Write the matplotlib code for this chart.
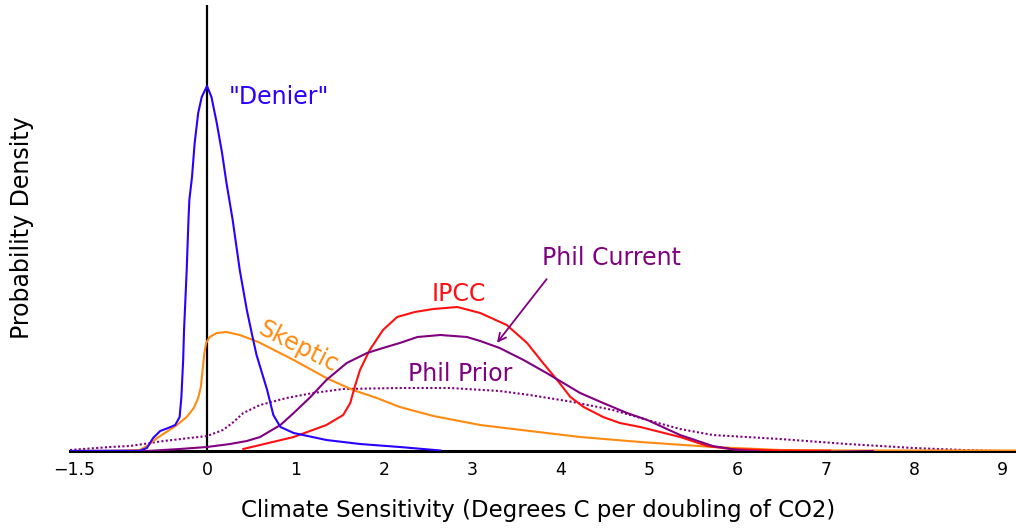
import numpy as np
import matplotlib
matplotlib.use('Agg')
import matplotlib.pyplot as plt

# climate sensitivity (deg C) vs probability density (arbitrary units)
denier_x = [-1.55, -0.98, -0.76, -0.68, -0.61, -0.53, -0.44, -0.36, -0.31, -0.29, -0.27, -0.26,
            -0.25, -0.23, -0.21, -0.20, -0.17, -0.14, -0.10, -0.06, 0.00, 0.05, 0.11, 0.17, 0.22,
            0.29, 0.37, 0.45, 0.51, 0.56, 0.68, 0.75, 0.83, 0.98, 1.35, 1.73, 2.18, 2.64]
denier_y = [0, 0.3, 0.3, 3, 13, 20, 23, 26, 34, 54, 91, 121,
            141, 181, 231, 251, 274, 308, 338, 354, 365, 354, 328, 298, 268,
            231, 181, 141, 116, 96, 61, 36, 24, 18, 11, 7, 4, 0.5]

skeptic_x = [-1.55, -0.98, -0.76, -0.66, -0.57, -0.46, -0.34, -0.23, -0.15, -0.10, -0.07, -0.05,
             -0.03, -0.01, 0.03, 0.11, 0.22, 0.37, 0.58, 0.98, 1.35, 1.65, 1.92, 2.18, 2.56,
             3.09, 3.84, 4.22, 4.90, 5.72, 6.48, 7.27, 9.15]
skeptic_y = [0, 0.3, 1, 6, 12.7, 19, 26, 34, 43, 53, 64, 81,
             98, 108, 114, 118, 119, 116, 109, 91, 73, 61, 53, 44, 35,
             26, 18, 14, 9, 4, 1, 0.5, 0.5]

ipcc_x = [0.41, 0.60, 0.98, 1.35, 1.54, 1.62, 1.67, 1.73, 1.84, 1.99, 2.15, 2.35, 2.56, 2.83,
          3.09, 3.39, 3.62, 3.80, 3.96, 4.11, 4.26, 4.48, 4.67, 4.90, 5.35, 5.66, 5.92, 6.48, 7.05]
ipcc_y = [2, 6, 14, 26, 36, 48, 64, 81, 101, 121, 134, 139, 142, 144,
          138, 126, 108, 88, 71, 54, 44, 34, 28, 24, 14, 5, 2, 0.5, 0.3]

current_x = [-1.55, -0.68, -0.31, 0.0, 0.26, 0.45, 0.60, 0.83, 0.98, 1.17, 1.35, 1.58, 1.81,
             1.99, 2.18, 2.38, 2.64, 2.94, 3.09, 3.31, 3.58, 3.84, 4.03, 4.22, 4.48, 4.75,
             4.98, 5.35, 5.72, 6.0, 6.48, 6.86, 7.53]
current_y = [0, 0, 2, 4, 7, 10, 14, 26, 38, 54, 71, 88, 98,
             103, 108, 114, 116, 114, 110, 103, 91, 78, 68, 58, 48, 38,
             31, 16, 5, 1, -2, -1, 0]

prior_x = [-1.55, -1.10, -0.87, -0.49, 0.0, 0.18, 0.30, 0.41, 0.60, 0.90, 1.20, 1.54, 2.18,
           2.75, 3.31, 3.65, 4.14, 4.59, 4.98, 5.35, 5.72, 6.48, 7.24, 7.99, 8.55, 8.97]
prior_y = [1, 4, 5, 10, 15, 21, 29, 38, 46, 53, 58, 62, 63,
           63, 60, 56, 49, 41, 31, 22, 16, 12, 7, 3, 1, 0]

xticks = [-1.5, 0, 1, 2, 3, 4, 5, 6, 7, 8, 9]
xticklabels = ['\u22121.5', '0', '1', '2', '3', '4', '5', '6', '7', '8', '9']

blue = '#2a00ff'
orange = '#ff8a10'
red = '#ff1010'
purple = '#800080'

plt.rcParams['font.family'] = 'DejaVu Sans'

fig = plt.figure(figsize=(10.16, 5.32), dpi=100)
ax = fig.add_axes([70 / 1016, 1 - 451 / 532, 1 - 70 / 1016, 446 / 532])

ax.plot(prior_x, prior_y, color=purple, lw=1.5, ls=(0, (1, 1.1)), dash_capstyle='butt')
ax.plot(skeptic_x, skeptic_y, color=orange, lw=1.5)
ax.plot(ipcc_x, ipcc_y, color=red, lw=1.5)
ax.plot(current_x, current_y, color=purple, lw=1.5)
ax.plot(denier_x, denier_y, color=blue, lw=1.5)
ax.axvline(0, color='black', lw=1.6, zorder=1)

ax.set_xlim(-1.55, 9.15)
ax.set_ylim(0, 446)
for s in ['left', 'right', 'top']:
    ax.spines[s].set_visible(False)
ax.spines['bottom'].set_linewidth(2.2)
ax.spines['bottom'].set_zorder(0.5)
ax.set_yticks([])
ax.set_xticks(xticks)
ax.set_xticklabels(xticklabels)
ax.tick_params(axis='x', length=0, pad=7, labelsize=12.5)

ax.text(0.24, 354, '"Denier"', color=blue, fontsize=17, ha='left', va='center')
ax.text(1.03, 104, 'Skeptic', color=orange, fontsize=17, ha='center', va='center', rotation=-27)
ax.text(2.85, 157, 'IPCC', color=red, fontsize=17, ha='center', va='center')
ax.text(4.58, 193, 'Phil Current', color=purple, fontsize=17, ha='center', va='center')
ax.text(2.86, 77, 'Phil Prior', color=purple, fontsize=17, ha='center', va='center')
ax.annotate('', xy=(3.26, 106), xytext=(3.86, 174),
            arrowprops=dict(arrowstyle='->', color=purple, lw=1.3, mutation_scale=14))

fig.text(538 / 1016, 1 - 510 / 532, 'Climate Sensitivity (Degrees C per doubling of CO2)',
         ha='center', va='center', fontsize=16.5)
fig.text(22 / 1016, 1 - 228 / 532, 'Probability Density', rotation=90,
         ha='center', va='center', fontsize=17)

fig.savefig('out.png', dpi=100)
